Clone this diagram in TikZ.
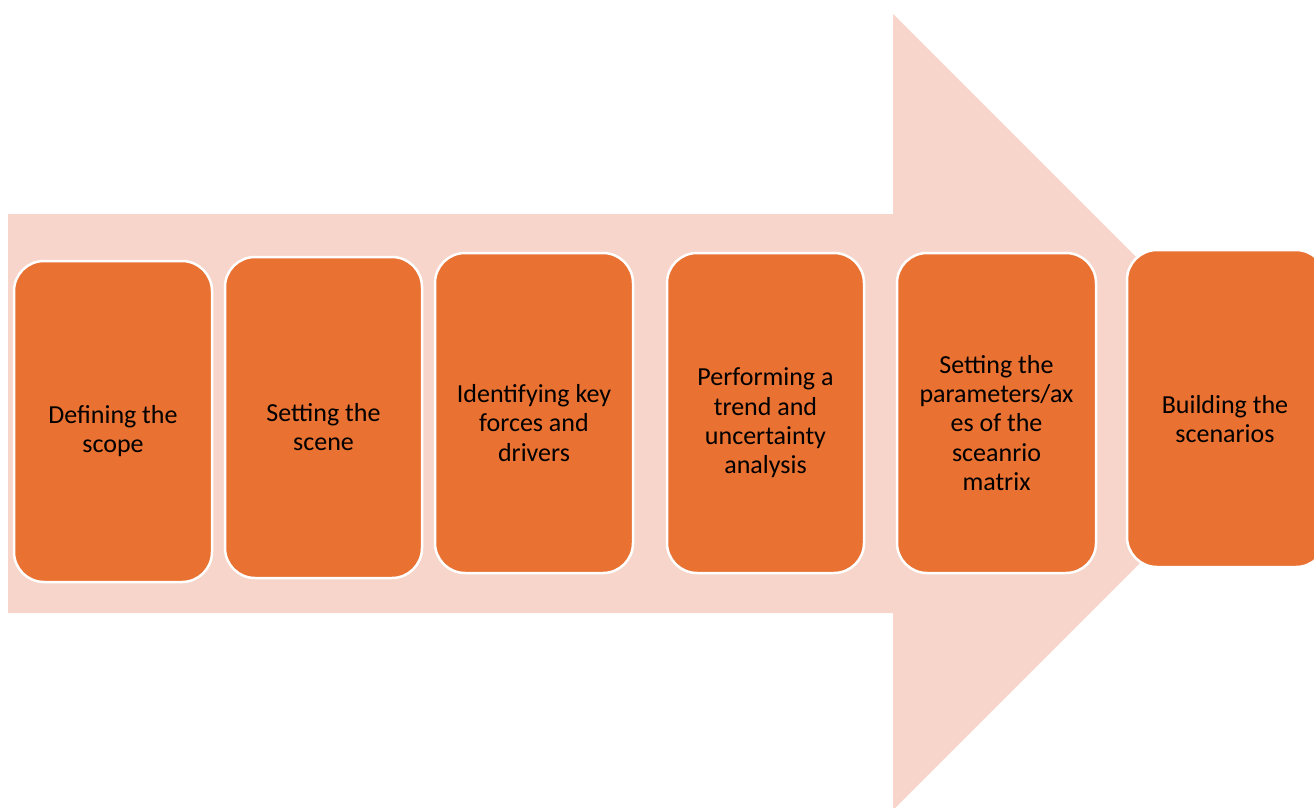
\documentclass[tikz,border=0pt]{standalone}
\usepackage{fontspec}
\setmainfont{Carlito}
\definecolor{boxorange}{HTML}{E97132}
\definecolor{arrowpink}{HTML}{F7D5CB}
\begin{document}
\begin{tikzpicture}[x=1pt,y=-1pt,
  stepbox/.style={draw=white, line width=2.5pt, fill=boxorange, rounded corners=30pt},
  steplabel/.style={align=center, font=\fontsize{26}{29.3}\selectfont, text=black}]
\useasboundingbox (0,0) rectangle (1314,808);
\clip (0,0) rectangle (1314,808);
% big arrow
\fill[arrowpink] (8,214) -- (893,214) -- (893,14) -- (1291,412) -- (893,810) -- (893,613) -- (8,613) -- cycle;
% boxes
\draw[stepbox] (14,261) rectangle (212,582);
\draw[stepbox] (225,257) rectangle (422,578);
\draw[stepbox] (435,253) rectangle (633,573);
\draw[stepbox] (667,253) rectangle (864,573);
\draw[stepbox] (897,253) rectangle (1096,573);
\draw[stepbox] (1127,250) rectangle (1326,567);
% labels
\node[steplabel] (s1) at (113,431) {Defining the\\scope};
\node[steplabel] (s2) at (323.5,427) {Setting the\\scene};
\node[steplabel] (s3) at (534,423) {Identifying key\\forces and\\drivers};
\node[steplabel] (s4) at (765.5,423) {Performing a\\trend and\\uncertainty\\analysis};
\node[steplabel] (s5) at (996.5,423) {Setting the\\parameters/ax\\es of the\\sceanrio\\matrix};
\node[steplabel] (s6) at (1225,419) {Building the\\scenarios};
\end{tikzpicture}
\end{document}
